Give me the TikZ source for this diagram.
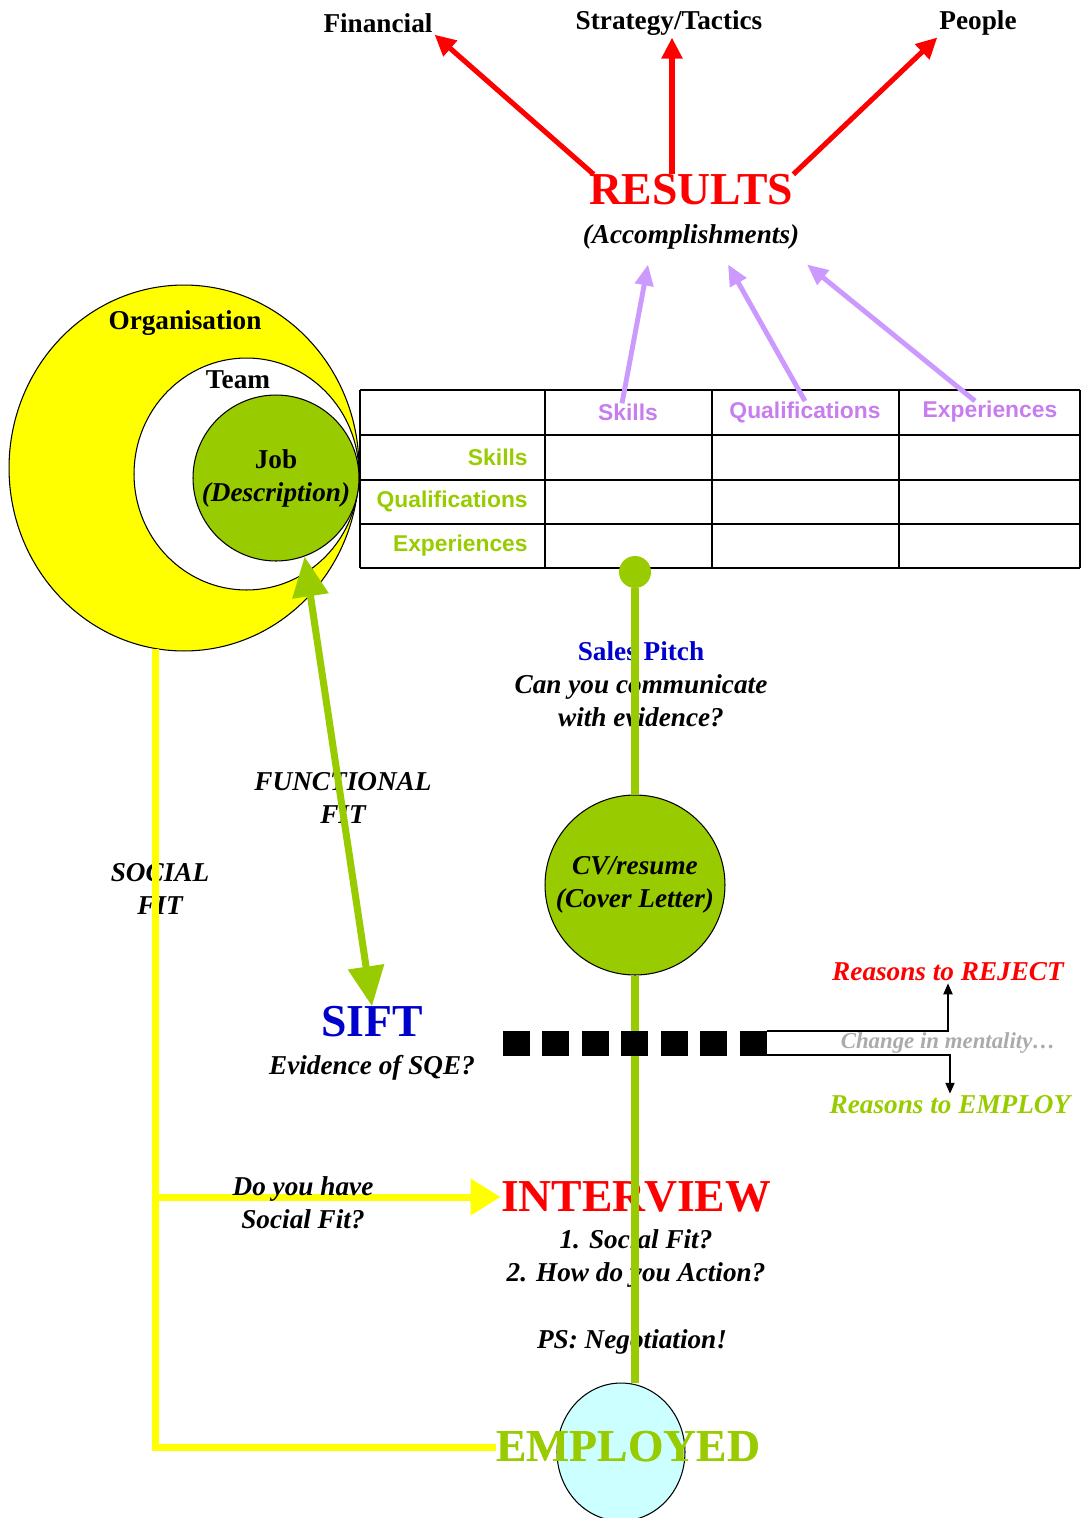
\documentclass[tikz,border=0pt]{standalone}
\usepackage{fontspec}
\setmainfont{Liberation Serif}
\setsansfont{Liberation Sans}
\usepackage{tikz}
\usetikzlibrary{positioning,arrows.meta,shapes.geometric,calc}
\definecolor{fitgreen}{HTML}{99CC00}
\definecolor{hotred}{HTML}{FF0000}
\definecolor{lilac}{HTML}{CC99FF}
\definecolor{lilactext}{HTML}{C77DEE}
\definecolor{pitchblue}{HTML}{0000CC}
\definecolor{palecyan}{HTML}{CCFFFF}
\definecolor{sunyellow}{HTML}{FFFF00}
\definecolor{mindgray}{HTML}{ABABAB}

\begin{document}
\begin{tikzpicture}[
    x=0.02cm, y=-0.02cm,
    txt/.style      ={font=\fontsize{15.5}{18.8}\selectfont\bfseries, align=center, inner sep=1pt},
    itxt/.style     ={font=\fontsize{15.5}{18.8}\selectfont\bfseries\itshape, align=center, inner sep=1pt},
    big/.style      ={font=\fontsize{26}{30}\selectfont\bfseries, inner sep=0pt},
    cell/.style     ={font=\fontsize{13}{15}\selectfont\sffamily\bfseries, inner sep=0pt},
    ring/.style     ={draw=black, line width=0.6pt, ellipse, inner sep=0pt},
    tabline/.style  ={line width=0.8pt, draw=black},
    redarrow/.style ={-{Triangle[length=4.2mm,width=4mm]}, line width=2.9pt, draw=hotred},
    lilarrow/.style ={-{Triangle[length=4.2mm,width=3.6mm]}, line width=2.8pt, draw=lilac},
    gline/.style    ={line width=4.5pt, draw=fitgreen},
    fitarrow/.style ={{Triangle[length=8mm,width=7mm]}-{Triangle[length=8mm,width=7mm]}, line width=4pt, draw=fitgreen},
    yline/.style    ={line width=4pt, draw=sunyellow},
    blk/.style      ={-{Triangle[length=2.2mm,width=1.8mm]}, line width=1.1pt, draw=black},
  ]
  \useasboundingbox (0,0) rectangle (1081,1518);

  \node[ring, fill=sunyellow, minimum width=7cm, minimum height=7.32cm] (org) at (184,468) {};
  \node[ring, fill=white, minimum width=4.5cm, minimum height=4.64cm] (team) at (246.5,474) {};
  \node[ring, circle, fill=fitgreen, minimum size=3.32cm, txt] (job) at (276,478) {Job\\\textit{(Description)}};
  \node[txt] (orglab) at (185,323) {Organisation};
  \node[txt] (teamlab) at (238,380) {Team};

  \foreach \ty in {390,435,480,524,568}
    \draw[tabline] (360,\ty) -- (1080,\ty);
  \foreach \tx in {360,545,712,899,1080}
    \draw[tabline] (\tx,390) -- (\tx,568);
  \node[cell, text=lilactext] (hskill) at (628,412) {Skills};
  \node[cell, text=lilactext] (hqual)  at (805,412) {Qualifications};
  \node[cell, text=lilactext] (hexp)   at (990,412) {Experiences};
  \node[cell, text=fitgreen, anchor=east] (rskill) at (528,457) {Skills};
  \node[cell, text=fitgreen, anchor=east] (rqual)  at (528,501) {Qualifications};
  \node[cell, text=fitgreen, anchor=east] (rexp)   at (528,546) {Experiences};

  \node[txt] (fin)   at (378,23) {Financial};
  \node[txt] (strat) at (669,23) {Strategy/Tactics};
  \node[txt] (ppl)   at (978,23) {People};
  \node[big, text=hotred] (res) at (691,190) {RESULTS};
  \node[itxt] (acc) at (691,237) {(Accomplishments)};
  \draw[redarrow] ([xshift=0.1cm]res.north west) -- (fin.south east);
  \draw[redarrow] ([xshift=0.06cm]strat.south |- res.north) -- ([xshift=0.06cm]strat.south);
  \draw[redarrow] (res.north east) -- (ppl.south west);
  \draw[lilarrow] ([xshift=-0.12cm]hskill.north) -- ([xshift=-0.86cm,yshift=-0.26cm]acc.south);
  \draw[lilarrow] (hqual.north) -- ([xshift=0.74cm,yshift=-0.26cm]acc.south);
  \draw[lilarrow] ([xshift=-0.3cm]hexp.north) -- ([xshift=2.32cm,yshift=-0.26cm]acc.south);

  \node[txt] (pitch) at (641,684) {\textcolor{pitchblue}{Sales Pitch}\\\textit{Can you communicate}\\\textit{with evidence?}};
  \node[itxt] (ffit) at (343,798) {FUNCTIONAL\\FIT};
  \node[itxt] (sfit) at (160,889) {SOCIAL\\FIT};
  \node[big, text=pitchblue] (sift) at (372,1022) {SIFT};
  \node[itxt] (sqe) at (372,1068) {Evidence of SQE?};
  \node[itxt, text=hotred] (rej) at (948,972) {Reasons to REJECT};
  \node[itxt, text=fitgreen] (hire) at (950,1105) {Reasons to EMPLOY};
  \node[itxt, text=mindgray, font=\fontsize{13}{15}\selectfont\bfseries\itshape] (mind) at (948,1043) {Change in mentality\ldots};
  \node[big, text=hotred] (intv) at (636,1197) {INTERVIEW};
  \node[itxt] (ask) at (636,1258) {1. Social Fit?\\2. How do you Action?};
  \node[itxt] (ps) at (632,1342) {PS: Negotiation!};

  \node[circle, fill=fitgreen, minimum size=0.64cm, inner sep=0pt] (dot) at (635,572) {};
  \node[ring, circle, fill=fitgreen, minimum size=3.6cm, itxt, inner sep=0pt] (cv) at (635,885) {\raisebox{0.1cm}{CV/resume}\\\raisebox{0.1cm}{(Cover Letter)}};
  \node[ring, fill=palecyan, minimum width=2.56cm, minimum height=2.76cm] (empc) at (621,1452) {};
  \node[big, text=fitgreen] (emptxt) at (628,1447) {EMPLOYED};
  \draw[gline] (dot) -- (cv);
  \draw[gline] (cv.south) -- (cv.south |- empc.north);

  \draw[fitarrow] (job.-70) -- (sift.north);
  \draw[yline] (org.-99) |- (emptxt.west);
  \draw[yline, -{Triangle[length=6mm,width=7mm]}] (org.-99 |- intv.west) -- (intv.west);
  \node[itxt] (dyh) at (303,1203) {Do you have\\Social Fit?};
  \node[big, text=fitgreen] at (emptxt) {EMPLOYED};

  \coordinate (gate0) at (503,1043);
  \coordinate (gate1) at (767,1043);
  \coordinate (gtop) at (767,1031);
  \coordinate (gbot) at (767,1055);
  \draw[line width=0.5cm, dash pattern=on 0.54cm off 0.25cm] (gate0) -- (gate1);
  \draw[blk] (gtop) -| (rej.south);
  \draw[blk] (gbot) -| (hire.north);
\end{tikzpicture}
\end{document}
